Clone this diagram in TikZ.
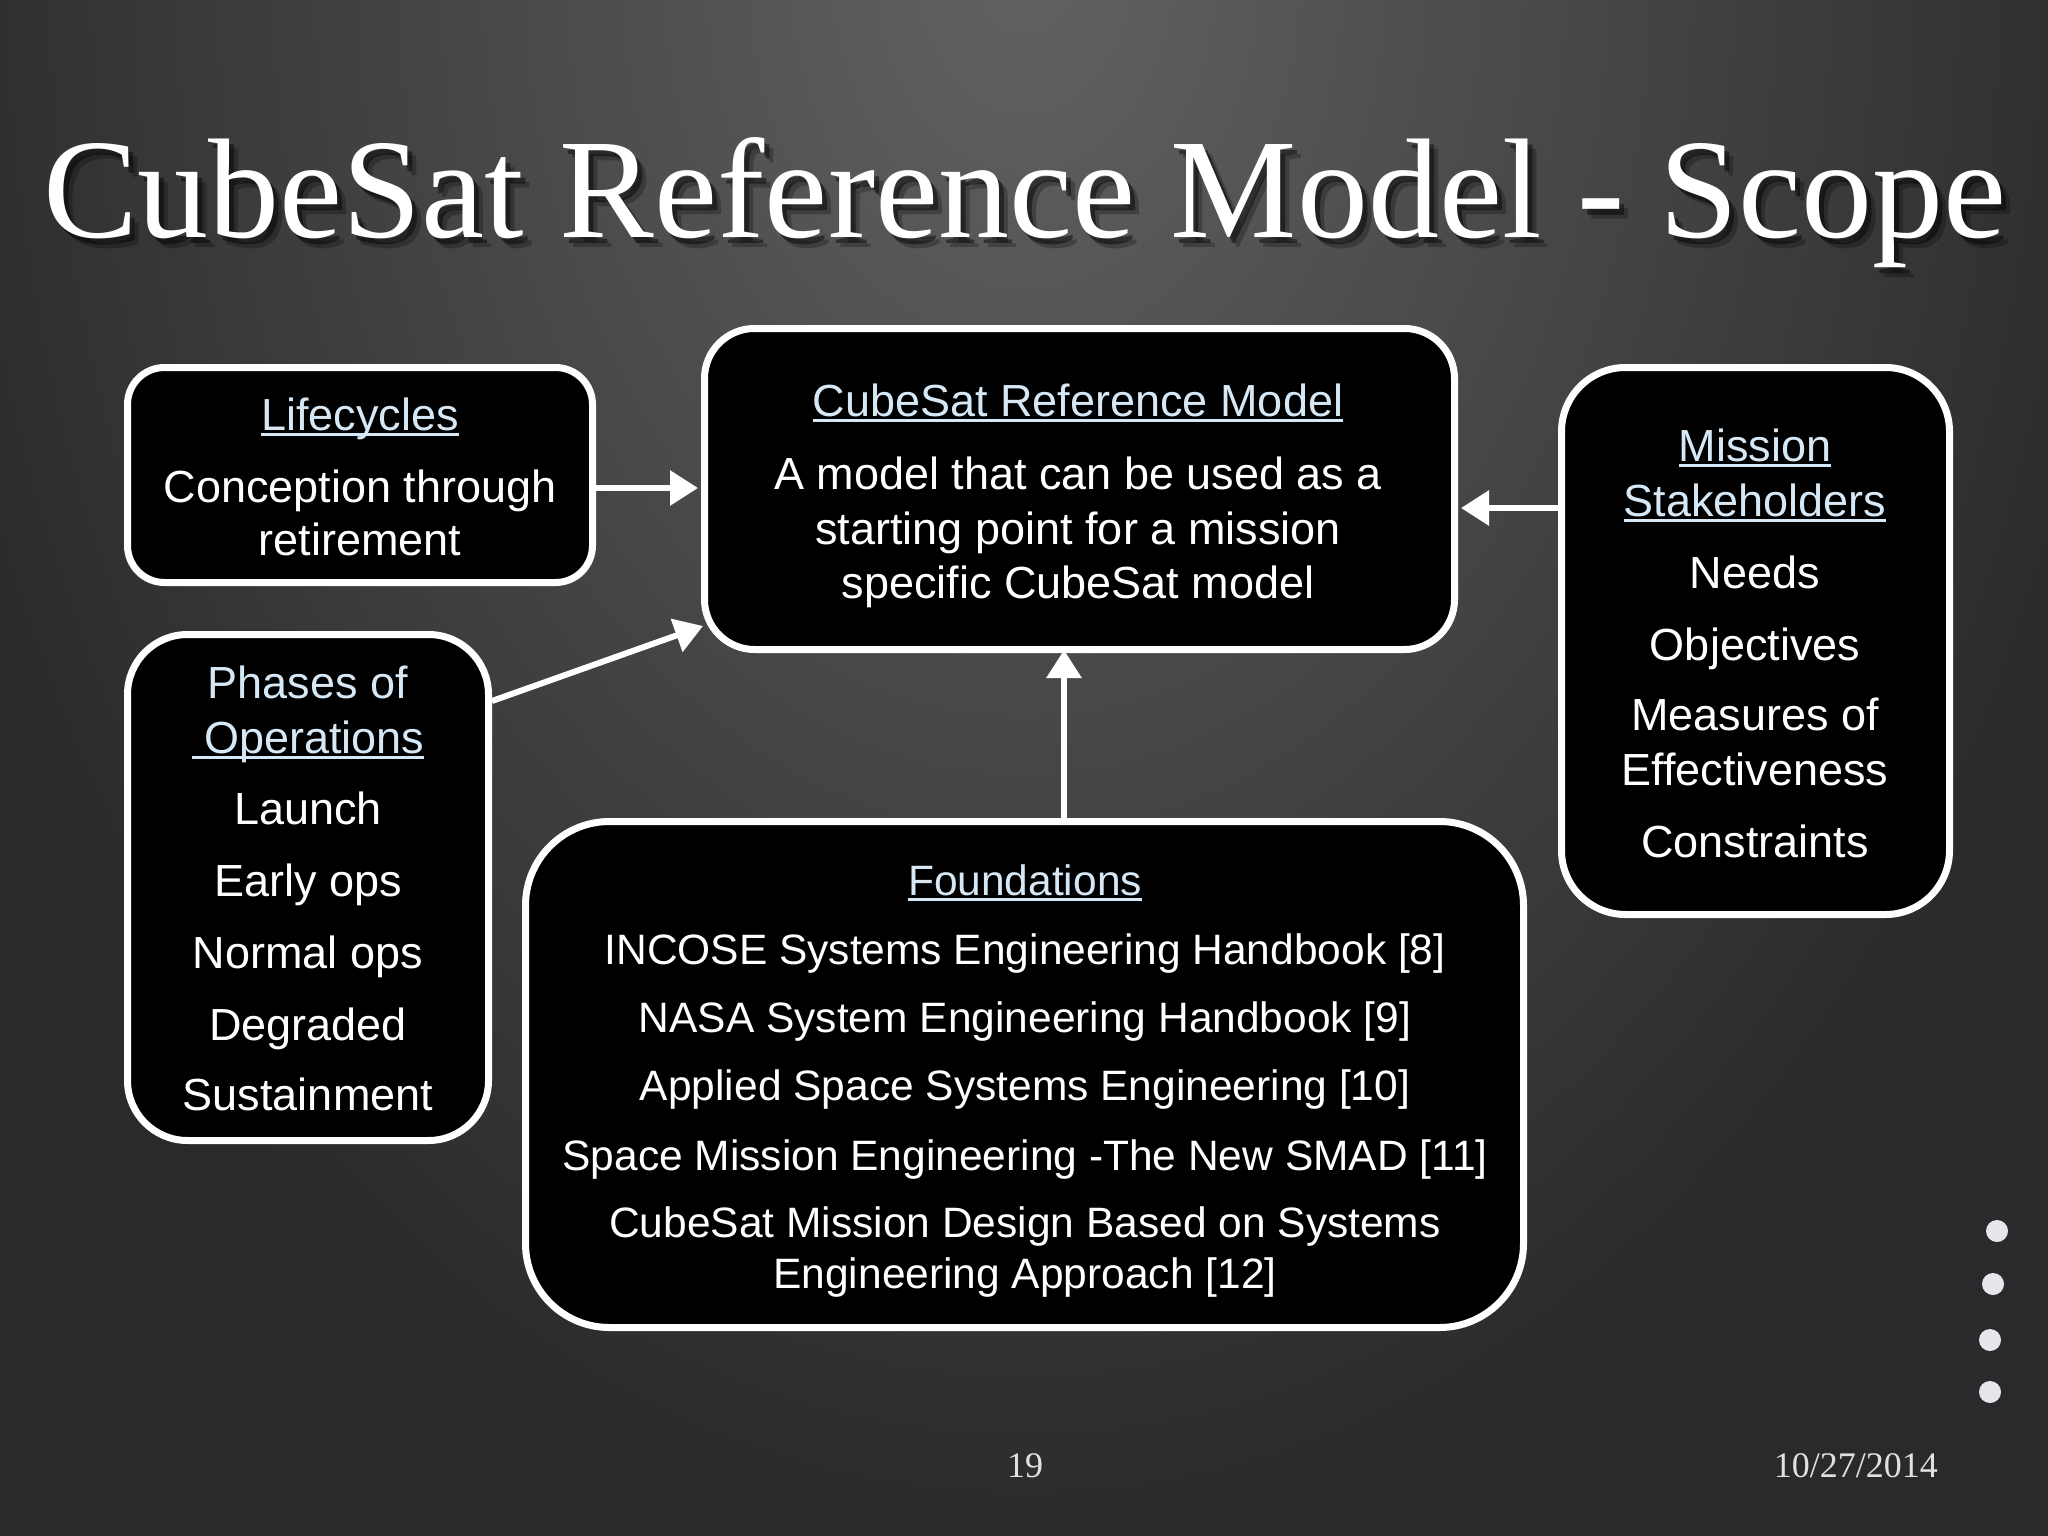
\documentclass[tikz,border=0pt]{standalone}
\usepackage{fontspec}
\setmainfont{Liberation Sans}
\newfontfamily\titlefont{Liberation Serif}
\usetikzlibrary{arrows.meta,calc}
\definecolor{hdblue}{RGB}{214,232,245}
\definecolor{bgtop}{RGB}{98,98,98}
\definecolor{bgbot}{RGB}{42,42,44}
\definecolor{dotc}{RGB}{232,230,234}
\definecolor{foot}{RGB}{225,225,225}
\newcommand{\ulhd}[1]{\setbox0=\hbox{#1}\rlap{\rule[-6pt]{\wd0}{2.8pt}}\box0}
\tikzset{
  box/.style={draw=white, line width=7pt, fill=black, rounded corners=#1, inner sep=0pt},
  txt/.style={text=white, anchor=base, inner sep=0pt, font=\fontsize{45}{54}\selectfont},
  hd/.style={txt, text=hdblue},
  ftxt/.style={text=white, anchor=base, inner sep=0pt, font=\fontsize{42.5}{51}\selectfont},
  fhd/.style={ftxt, text=hdblue},
  arr/.style={draw=white, line width=6pt, -{Triangle[length=28pt,width=34pt]}},
  ttl/.style={anchor=base, inner sep=0pt, font=\titlefont\fontsize{142}{150}\selectfont},
  ftr/.style={anchor=base, inner sep=0pt, text=foot, font=\titlefont\fontsize{36}{40}\selectfont},
  dot/.style={fill=dotc}
}
\begin{document}
\begin{tikzpicture}[x=1pt,y=-1pt]
\useasboundingbox (0,0) rectangle (2048,1536);
% background
\fill[bgbot] (0,0) rectangle (2048,1536);
\begin{scope}
  \clip (0,0) rectangle (2048,1536);
  \shade[inner color=bgtop, outer color=bgbot] (1024,-40) ellipse [x radius=1150pt, y radius=1600pt];
\end{scope}

% title with shadow
\node[ttl, text=black, opacity=0.25] (titlesh2) at (1034,247) {CubeSat Reference Model - Scope};
\node[ttl, text=black, opacity=0.45] (titlesh) at (1030,243) {CubeSat Reference Model - Scope};
\node[ttl, text=white] (title) at (1025,237) {CubeSat Reference Model - Scope};

% boxes
\node[box=37pt, minimum width=465pt, minimum height=215pt] (lc) at (360,475) {};
\node[box=50pt, minimum width=750pt, minimum height=321pt] (cm) at (1079.5,489) {};
\node[box=64pt, minimum width=388pt, minimum height=547pt] (ms) at (1755.5,641) {};
\node[box=60pt, minimum width=361pt, minimum height=506pt] (ph) at (308,887.5) {};
\node[box=84pt, minimum width=998pt, minimum height=506pt] (fd) at (1024.5,1074.5) {};

% Lifecycles
\node[hd] (lct) at (360,430) {\ulhd{Lifecycles}};
\node[txt] (lc1) at (360,502) {Conception through};
\node[txt] (lc2) at (360,555) {retirement};

% CubeSat Reference Model
\node[hd] (cmt) at (1078,416) {\ulhd{CubeSat Reference Model}};
\node[txt] (cm1) at (1078,489) {A model that can be used as a};
\node[txt] (cm2) at (1078,544) {starting point for a mission};
\node[txt] (cm3) at (1078,598) {specific CubeSat model};

% Mission Stakeholders
\node[hd] (mst1) at (1755,461) {\ulhd{Mission}};
\node[hd] (mst2) at (1755,516) {\ulhd{Stakeholders}};
\node[txt] (ms1) at (1755,588) {Needs};
\node[txt] (ms2) at (1755,660) {Objectives};
\node[txt] (ms3) at (1755,730) {Measures of};
\node[txt] (ms4) at (1755,785) {Effectiveness};
\node[txt] (ms5) at (1755,857) {Constraints};

% Phases of Operations
\node[hd] (pht1) at (308,698) {Phases of};
\node[hd] (pht2) at (308,753) {\ulhd{\ Operations}};
\node[txt] (ph1) at (308,824) {Launch};
\node[txt] (ph2) at (308,896) {Early ops};
\node[txt] (ph3) at (308,968) {Normal ops};
\node[txt] (ph4) at (308,1040) {Degraded};
\node[txt] (ph5) at (308,1110) {Sustainment};

% Foundations
\node[fhd] (fdt) at (1025,895) {\ulhd{Foundations}};
\node[ftxt] (fd1) at (1025,964) {INCOSE Systems Engineering Handbook [8]};
\node[ftxt] (fd2) at (1025,1032) {NASA System Engineering Handbook [9]};
\node[ftxt] (fd3) at (1025,1100) {Applied Space Systems Engineering [10]};
\node[ftxt] (fd4) at (1025,1170) {Space Mission Engineering -The New SMAD [11]};
\node[ftxt] (fd5) at (1025,1237) {CubeSat Mission Design Based on Systems};
\node[ftxt] (fd6) at (1025,1288) {Engineering Approach [12]};

% connectors
\coordinate (ya) at (0,488);
\coordinate (yb) at (0,508);
\coordinate (yd) at (0,701);
\coordinate (xc) at (1064,0);
\draw[arr] (lc.east |- ya) -- ([xshift=-3pt]cm.west |- ya);
\draw[arr] (ms.west |- yb) -- ([xshift=3pt]cm.east |- yb);
\draw[arr] (fd.north -| xc) -- ([yshift=3pt]cm.south -| xc);
\draw[arr] (ph.east |- yd) -- ($(cm.south west)+(2,-27)$);

% footer
\node[ftr] (pg) at (1025,1477) {19};
\node[ftr, anchor=base east] (date) at (1938,1477) {10/27/2014};

% dots
\fill[dot] (1997,1231) circle (11pt);
\fill[dot] (1993,1284) circle (11pt);
\fill[dot] (1990,1340) circle (11pt);
\fill[dot] (1990,1392) circle (11pt);
\end{tikzpicture}
\end{document}
